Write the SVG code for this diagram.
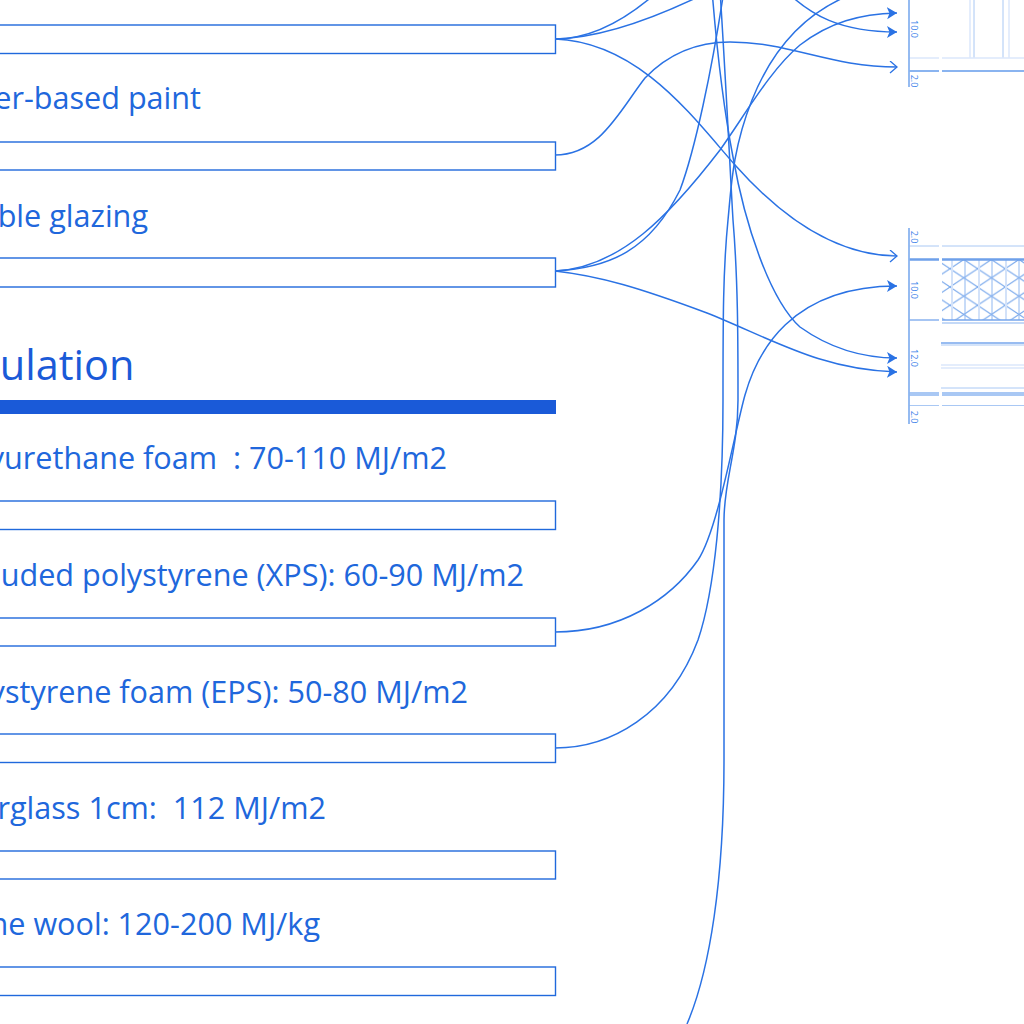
<svg xmlns="http://www.w3.org/2000/svg" width="1024" height="1024" viewBox="0 0 1024 1024">
<defs>
<style>
.t{font-family:"Open Sans","Noto Sans","Liberation Sans",sans-serif;fill:#2067dc;font-size:30.6px;text-anchor:end;white-space:pre}
.h{font-size:41.500px;fill:#1a5ad8}
.box{fill:#fff;stroke:#2069dc;stroke-width:1.4}
.c{fill:none;stroke:#2a72e4;stroke-width:1.5}
.d{font-family:"Open Sans","Noto Sans","Liberation Sans",sans-serif;fill:#3f84ea;font-size:9px;text-anchor:middle}
.dim{stroke:#8ab4f0;stroke-width:1.8;fill:none}
.l1{stroke:#a9c8f4;stroke-width:1;fill:none}
.l2{stroke:#76a6ec;stroke-width:1.3;fill:none}
.l3{stroke:#dbe8fb;stroke-width:1.5;fill:none}
</style>
<marker id="af" markerUnits="userSpaceOnUse" markerWidth="12" markerHeight="14" refX="10" refY="6" orient="auto"><path d="M0 0L10 6L0 12L2.500 6Z" fill="#2a72e4"/></marker>
<marker id="ao" markerUnits="userSpaceOnUse" markerWidth="12" markerHeight="14" refX="8" refY="6" orient="auto"><path d="M1 0L8 6L1 12" fill="none" stroke="#2a72e4" stroke-width="1.3"/></marker>
<pattern id="mesh" patternUnits="userSpaceOnUse" x="950" y="268.7" width="27.6" height="18.3"><path d="M0 0L13.8 9.15L27.6 0M0 18.3L13.8 9.15L27.6 18.3" fill="none" stroke="#7aa9ec" stroke-width="1.1"/></pattern>
</defs>
<rect width="1024" height="1024" fill="#fff"/>

<g id="node-paint"><text class="t" x="201" y="109">er-based paint</text></g>
<g id="node-glazing"><text class="t" x="148" y="227">ble glazing</text></g>
<g id="node-insulation"><text class="t h" x="134.500" y="380">ulation</text><rect x="-5" y="400" width="561" height="14" fill="#1a5ad8"/></g>
<g id="node-pu"><text class="t" x="447" y="469">yurethane foam  : 70-110 MJ/m2</text></g>
<g id="node-xps"><text class="t" x="524" y="586">uded polystyrene (XPS): 60-90 MJ/m2</text></g>
<g id="node-eps"><text class="t" x="468" y="702.500">ystyrene foam (EPS): 50-80 MJ/m2</text></g>
<g id="node-glass"><text class="t" x="326" y="819">rglass 1cm:  112 MJ/m2</text></g>
<g id="node-wool"><text class="t" x="320" y="935">ne wool: 120-200 MJ/kg</text></g>
<g id="bars">
<rect class="box" x="-5" y="25" width="560.5" height="28.5"/>
<rect class="box" x="-5" y="142" width="560.5" height="28"/>
<rect class="box" x="-5" y="258" width="560.5" height="29"/>
<rect class="box" x="-5" y="501" width="560.5" height="28.5"/>
<rect class="box" x="-5" y="618" width="560.5" height="28"/>
<rect class="box" x="-5" y="734" width="560.5" height="28.5"/>
<rect class="box" x="-5" y="851" width="560.5" height="28"/>
<rect class="box" x="-5" y="967" width="560.5" height="28.5"/>
</g>

<g id="section-top">
<path class="l3" d="M970 0V58M1009 0V58"/>
<path class="l1" d="M974 0V58M1003 0V58"/>
<path class="l3" d="M909 58H939M942 58H1024"/>
<path d="M909 71H939M942 71H1024" stroke="#8ab4f0" stroke-width="2" fill="none"/>
<path class="dim" d="M909 0V87"/>
<text class="d" transform="translate(911 29) rotate(90)">10.0</text>
<text class="d" transform="translate(911 81) rotate(90)">2.0</text>
</g>
<g id="section-bottom">
<rect x="942" y="260" width="82" height="60" fill="url(#mesh)"/>
<path d="M952 260V320M979 260V320M1006 260V320" stroke="#d3e2f9" stroke-width="2" fill="none"/>
<path d="M965 260V320M992 260V320M1019 260V320" stroke="#8fb7f0" stroke-width="1" fill="none"/>
<path class="l1" d="M909 246H939M942 246H1024"/>
<path d="M909 259.500H939M942 259.500H1024" stroke="#6ea0ea" stroke-width="2.500" fill="none"/>
<path class="l2" d="M909 320H939"/>
<path class="l2" d="M942 320H1024"/>
<path d="M942 323H1024" stroke="#c4d9f7" stroke-width="2" fill="none"/>
<path class="l2" d="M941 343H1024"/>
<path class="l1" d="M941 345H1024"/>
<path class="l3" d="M941 365H1024M941 368H1024"/>
<path class="l1" d="M941 388H1024"/>
<path d="M909 394H939M942 394H1024" stroke="#a9c8f4" stroke-width="4" fill="none"/>
<path class="l1" d="M909 405.500H939M942 405.500H1024"/>
<path class="dim" d="M909 228V424"/>
<text class="d" transform="translate(911 237) rotate(90)">2.0</text>
<text class="d" transform="translate(911 290) rotate(90)">10.0</text>
<text class="d" transform="translate(911 358) rotate(90)">12.0</text>
<text class="d" transform="translate(911 417) rotate(90)">2.0</text>
</g>

<g id="connectors">
<path class="c" d="M555 39C590 39 625 20 655 -6"/>
<path class="c" d="M555 39C600 38 650 20 700 -4"/>
<path class="c" d="M555 39C640 42 695 120 735 165C775 210 830 256 897 256" marker-end="url(#ao)"/>
<path class="c" d="M555 155C600 155 620 110 645 78C670 52 700 42 730 42C790 42 830 67 897 67" marker-end="url(#ao)"/>
<path class="c" d="M555 271C610 268 650 250 680 190C695 150 712 70 724 -10"/>
<path class="c" d="M555 271C620 268 670 215 720 150C745 115 770 70 800 45C830 22 860 14 897 13" marker-end="url(#af)"/>
<path class="c" d="M785 -10C810 15 840 32 897 32" marker-end="url(#af)"/>
<path class="c" d="M555 271C600 276 640 288 707 313C770 338 820 370 897 372" marker-end="url(#af)"/>
<path class="c" d="M555 632C620 632 670 600 698 560C718 530 735 430 745 395C757 353 790 286 897 286" marker-end="url(#af)"/>
<path class="c" d="M555 748C610 748 670 715 698 640C715 590 723 500 723 400C723 320 723 270 728 220C731 190 732 150 752 100C770 55 800 15 850 -5"/>
<path class="c" d="M687 1024C710 970 724 880 724 760L724 520C724 480 738 450 738 400C738 340 738 280 733 220C730 170 727 100 720 -10"/>
<path class="c" d="M712 -10C716 40 722 100 733 157C745 225 770 300 800 327C835 352 870 358 897 358" marker-end="url(#af)"/>
</g>
</svg>
